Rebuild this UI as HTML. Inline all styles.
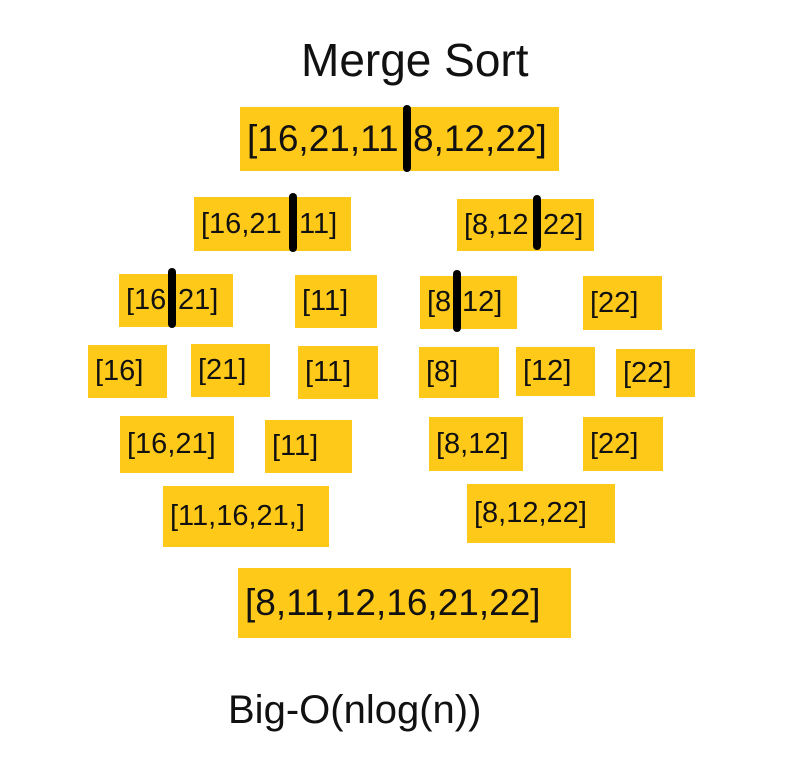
<!DOCTYPE html>
<html><head><meta charset="utf-8"><style>
html,body{margin:0;padding:0;background:#fff;}
body{width:812px;height:769px;position:relative;overflow:hidden;font-family:"Liberation Sans",sans-serif;color:#111;}
.b{position:absolute;background:#FFC91A;display:flex;align-items:center;padding-left:7px;box-sizing:border-box;font-size:29px;white-space:pre;}
.big{font-size:37px;}
.r{position:absolute;display:flex;align-items:center;white-space:pre;font-size:29px;}
.r.big{font-size:37px;}
.bar{position:absolute;width:8px;background:#000;border-radius:4px;}
.t{position:absolute;font-size:46px;white-space:nowrap;}
</style></head><body>
<div class="t" style="left:301px;top:33px;">Merge Sort</div>

<div class="b big" style="left:240px;top:107px;width:319px;height:64px;">[16,21,11</div>
<div class="r big" style="left:413px;top:107px;height:64px;">8,12,22]</div>
<div class="bar" style="left:403px;top:105px;height:67px;"></div>

<div class="b" style="left:194px;top:197px;width:157px;height:54px;">[16,21</div>
<div class="r" style="left:299px;top:197px;height:54px;">11]</div>
<div class="bar" style="left:289px;top:193px;height:59px;"></div>
<div class="b" style="left:457px;top:199px;width:137px;height:52px;">[8,12</div>
<div class="r" style="left:543px;top:199px;height:52px;">22]</div>
<div class="bar" style="left:533px;top:195px;height:55px;"></div>

<div class="b" style="left:119px;top:274px;width:114px;height:53px;">[16</div>
<div class="r" style="left:178px;top:274px;height:53px;">21]</div>
<div class="bar" style="left:168px;top:268px;height:60px;"></div>
<div class="b" style="left:295px;top:275px;width:82px;height:53px;">[11]</div>
<div class="b" style="left:420px;top:276px;width:97px;height:53px;">[8</div>
<div class="r" style="left:462px;top:276px;height:53px;">12]</div>
<div class="bar" style="left:453px;top:270px;height:62px;"></div>
<div class="b" style="left:583px;top:276px;width:79px;height:54px;">[22]</div>

<div class="b" style="left:88px;top:345px;width:79px;height:53px;">[16]</div>
<div class="b" style="left:191px;top:344px;width:79px;height:53px;">[21]</div>
<div class="b" style="left:298px;top:346px;width:80px;height:53px;">[11]</div>
<div class="b" style="left:419px;top:347px;width:80px;height:51px;">[8]</div>
<div class="b" style="left:516px;top:347px;width:79px;height:49px;">[12]</div>
<div class="b" style="left:616px;top:349px;width:79px;height:48px;">[22]</div>

<div class="b" style="left:120px;top:416px;width:114px;height:57px;">[16,21]</div>
<div class="b" style="left:265px;top:420px;width:87px;height:53px;">[11]</div>
<div class="b" style="left:429px;top:417px;width:94px;height:54px;">[8,12]</div>
<div class="b" style="left:583px;top:417px;width:80px;height:54px;">[22]</div>

<div class="b" style="left:163px;top:486px;width:166px;height:61px;">[11,16,21,]</div>
<div class="b" style="left:467px;top:484px;width:148px;height:59px;">[8,12,22]</div>

<div class="b big" style="left:238px;top:568px;width:333px;height:70px;">[8,11,12,16,21,22]</div>

<div class="t" style="left:228px;top:688px;font-size:40px;">Big-O(nlog(n))</div>
</body></html>
